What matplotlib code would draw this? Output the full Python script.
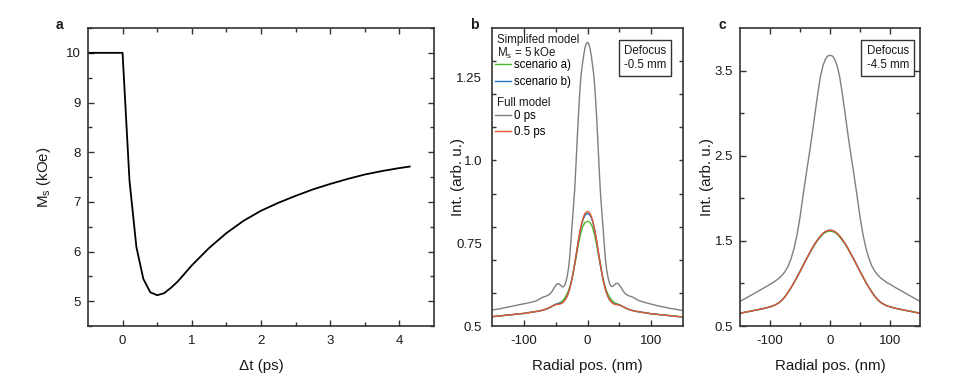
import numpy as np
import matplotlib
matplotlib.use("Agg")
import matplotlib.pyplot as plt
from matplotlib.ticker import MultipleLocator, FixedLocator

plt.rcParams['font.family'] = ['Liberation Sans', 'DejaVu Sans']
plt.rcParams['mathtext.fontset'] = 'custom'
plt.rcParams['mathtext.rm'] = 'Liberation Sans'
plt.rcParams['mathtext.it'] = 'Liberation Sans:italic'
plt.rcParams['axes.unicode_minus'] = False

# panel a: saturation magnetisation vs delay
t_ps = [-0.5, 0.0, 0.1, 0.2, 0.3, 0.4, 0.5, 0.6, 0.7, 0.8, 1.0, 1.25, 1.5, 1.75,
        2.0, 2.25, 2.5, 2.75, 3.0, 3.25, 3.5, 3.75, 4.0, 4.15]
ms_koe = [10, 10, 7.43, 6.09, 5.45, 5.18, 5.12, 5.16, 5.27, 5.40, 5.72, 6.07, 6.37, 6.62,
          6.82, 6.98, 7.12, 7.25, 7.36, 7.46, 7.55, 7.62, 7.68, 7.71]

# panel b: defocus -0.5 mm
xb = [-150, -140, -130, -120, -110, -100, -90, -80, -74, -70, -65, -60, -56, -52, -48, -45,
      -42, -40, -38, -36, -34, -32, -30, -28, -26, -24, -22, -20, -18, -16, -14, -12, -10,
      -8, -6, -4, -2, 0, 2, 4, 6, 8, 10, 12, 14, 16, 18, 20, 22, 24, 26, 28, 30, 32, 34,
      36, 38, 40, 42, 45, 48, 52, 56, 60, 65, 70, 74, 80, 90, 100, 110, 120, 130, 140, 150]
b_full_0ps = [0.548, 0.551, 0.555, 0.559, 0.563, 0.567, 0.571, 0.576, 0.583, 0.587, 0.590,
              0.595, 0.603, 0.616, 0.627, 0.628, 0.623, 0.619, 0.618, 0.622, 0.633, 0.648,
              0.672, 0.705, 0.755, 0.810, 0.860, 0.915, 0.990, 1.070, 1.145, 1.210, 1.260,
              1.290, 1.318, 1.340, 1.353, 1.357, 1.352, 1.338, 1.315, 1.286, 1.255, 1.205,
              1.140, 1.065, 0.985, 0.910, 0.855, 0.805, 0.752, 0.702, 0.670, 0.648, 0.632,
              0.622, 0.619, 0.620, 0.624, 0.629, 0.628, 0.618, 0.605, 0.596, 0.591, 0.588,
              0.584, 0.577, 0.571, 0.566, 0.561, 0.557, 0.553, 0.550, 0.546]
b_full_05ps = [0.528, 0.530, 0.532, 0.534, 0.536, 0.538, 0.541, 0.544, 0.546, 0.548, 0.551,
               0.555, 0.559, 0.563, 0.565, 0.566, 0.567, 0.569, 0.572, 0.577, 0.582, 0.590,
               0.600, 0.612, 0.627, 0.645, 0.666, 0.689, 0.712, 0.737, 0.762, 0.784, 0.804,
               0.819, 0.831, 0.840, 0.844, 0.846, 0.844, 0.840, 0.831, 0.819, 0.803, 0.783,
               0.761, 0.736, 0.711, 0.688, 0.665, 0.644, 0.626, 0.611, 0.599, 0.589, 0.581,
               0.576, 0.571, 0.568, 0.566, 0.565, 0.564, 0.562, 0.558, 0.554, 0.550, 0.547,
               0.545, 0.543, 0.540, 0.537, 0.535, 0.533, 0.531, 0.529, 0.527]
b_scen_a = [0.528, 0.530, 0.532, 0.534, 0.536, 0.538, 0.541, 0.544, 0.546, 0.548, 0.551,
            0.555, 0.559, 0.563, 0.567, 0.569, 0.572, 0.575, 0.579, 0.584, 0.590, 0.597,
            0.606, 0.617, 0.631, 0.647, 0.665, 0.685, 0.706, 0.728, 0.749, 0.768, 0.784,
            0.797, 0.806, 0.812, 0.815, 0.816, 0.815, 0.812, 0.806, 0.797, 0.783, 0.767,
            0.748, 0.727, 0.705, 0.684, 0.664, 0.646, 0.630, 0.616, 0.605, 0.596, 0.589,
            0.583, 0.578, 0.574, 0.571, 0.568, 0.566, 0.562, 0.558, 0.554, 0.550, 0.547,
            0.545, 0.543, 0.540, 0.537, 0.535, 0.533, 0.531, 0.529, 0.527]
b_scen_b = [0.528, 0.530, 0.532, 0.534, 0.536, 0.538, 0.541, 0.544, 0.546, 0.548, 0.551,
            0.555, 0.559, 0.564, 0.567, 0.568, 0.569, 0.570, 0.573, 0.577, 0.582, 0.590,
            0.600, 0.612, 0.627, 0.645, 0.666, 0.689, 0.712, 0.737, 0.761, 0.782, 0.801,
            0.815, 0.826, 0.834, 0.838, 0.840, 0.838, 0.834, 0.826, 0.815, 0.800, 0.781,
            0.760, 0.736, 0.711, 0.688, 0.665, 0.644, 0.626, 0.611, 0.599, 0.589, 0.581,
            0.576, 0.572, 0.569, 0.567, 0.566, 0.564, 0.562, 0.558, 0.554, 0.550, 0.547,
            0.545, 0.543, 0.540, 0.537, 0.535, 0.533, 0.531, 0.529, 0.527]

# panel c: defocus -4.5 mm
xc = [-150, -140, -130, -120, -110, -100, -95, -90, -85, -80, -75, -70, -65, -60, -55, -50,
      -45, -40, -35, -30, -25, -20, -16, -12, -8, -4, 0, 4, 8, 12, 16, 20, 25, 30, 35, 40,
      45, 50, 55, 60, 65, 70, 75, 80, 85, 90, 95, 100, 110, 120, 130, 140, 150]
c_full_0ps = [0.790, 0.828, 0.868, 0.908, 0.948, 0.990, 1.010, 1.035, 1.060, 1.095, 1.140,
              1.200, 1.290, 1.410, 1.570, 1.780, 2.030, 2.270, 2.500, 2.740, 3.000, 3.250,
              3.430, 3.550, 3.630, 3.670, 3.680, 3.670, 3.630, 3.550, 3.430, 3.250, 3.000,
              2.740, 2.500, 2.270, 2.030, 1.780, 1.570, 1.410, 1.290, 1.200, 1.140, 1.095,
              1.060, 1.035, 1.010, 0.990, 0.948, 0.908, 0.868, 0.828, 0.790]
c_full_05ps = [0.650, 0.664, 0.678, 0.692, 0.707, 0.725, 0.737, 0.753, 0.775, 0.805, 0.845,
               0.895, 0.950, 1.010, 1.075, 1.140, 1.210, 1.280, 1.345, 1.410, 1.470, 1.520,
               1.557, 1.587, 1.608, 1.621, 1.625, 1.621, 1.608, 1.587, 1.557, 1.520, 1.470,
               1.410, 1.345, 1.280, 1.210, 1.140, 1.075, 1.010, 0.950, 0.895, 0.845, 0.805,
               0.775, 0.753, 0.737, 0.725, 0.707, 0.692, 0.678, 0.664, 0.650]
c_scen_a = [0.650, 0.664, 0.678, 0.692, 0.707, 0.725, 0.737, 0.753, 0.775, 0.805, 0.845,
            0.895, 0.950, 1.010, 1.075, 1.140, 1.208, 1.276, 1.340, 1.403, 1.462, 1.511,
            1.547, 1.576, 1.598, 1.610, 1.614, 1.610, 1.598, 1.576, 1.547, 1.511, 1.462,
            1.403, 1.340, 1.276, 1.208, 1.140, 1.075, 1.010, 0.950, 0.895, 0.845, 0.805,
            0.775, 0.753, 0.737, 0.725, 0.707, 0.692, 0.678, 0.664, 0.650]
c_scen_b = c_full_05ps

GREEN = '#4cbb2e'
BLUE = '#1f74c4'
GRAY = '#7f7f7f'
ORANGE = '#e4572e'
TXT = '#1a1a1a'
LW = 1.0
FS_LEG = 8.3
FS_TICK = 9.5
FS_LAB = 10.9

fig = plt.figure(figsize=(9.55, 3.83), dpi=100)
ax_a = fig.add_axes([0.0921, 0.1488, 0.3623, 0.7781])
ax_b = fig.add_axes([0.5149, 0.1488, 0.2006, 0.7781])
ax_c = fig.add_axes([0.7749, 0.1488, 0.1885, 0.7781])


def style(ax):
    for s in ax.spines.values():
        s.set_linewidth(1.2)
        s.set_color('#333333')
    ax.tick_params(which='both', direction='in', top=True, right=True,
                   color='#333333', width=1.0, labelsize=FS_TICK, labelcolor=TXT)
    ax.tick_params(which='major', length=4)
    ax.tick_params(which='minor', length=3)
    ax.tick_params(axis='x', which='major', pad=6.5)
    ax.tick_params(axis='y', which='major', pad=5)


def axis_labels(ax, xl, yl, ycoord):
    ax.set_xlabel(xl, fontsize=FS_LAB, color=TXT)
    ax.set_ylabel(yl, fontsize=FS_LAB, color=TXT)
    ax.xaxis.set_label_coords(0.5, -0.110)
    ax.yaxis.set_label_coords(ycoord, 0.5)


# a
ax_a.plot(t_ps, ms_koe, color='black', lw=1.3)
ax_a.set_xlim(-0.5, 4.5)
ax_a.set_ylim(4.5, 10.5)
ax_a.xaxis.set_major_locator(FixedLocator([0, 1, 2, 3, 4]))
ax_a.xaxis.set_minor_locator(FixedLocator([0.5, 1.5, 2.5, 3.5]))
ax_a.yaxis.set_major_locator(MultipleLocator(1))
ax_a.yaxis.set_minor_locator(MultipleLocator(0.5))
style(ax_a)
axis_labels(ax_a, 'Δt (ps)', r'M$_\mathrm{s}$ (kOe)', -0.101)

# b
lg, = ax_b.plot(xb, b_full_0ps, color=GRAY, lw=LW)
la, = ax_b.plot(xb, b_scen_a, color=GREEN, lw=LW)
lb, = ax_b.plot(xb, b_scen_b, color=BLUE, lw=LW)
lo, = ax_b.plot(xb, b_full_05ps, color=ORANGE, lw=LW)
ax_b.set_xlim(-150, 150)
ax_b.set_ylim(0.5, 1.4)
ax_b.xaxis.set_major_locator(FixedLocator([-100, 0, 100]))
ax_b.xaxis.set_minor_locator(FixedLocator([-50, 50]))
ax_b.yaxis.set_major_locator(FixedLocator([0.5, 0.75, 1.0, 1.25]))
ax_b.yaxis.set_major_formatter(plt.FixedFormatter(['0.5', '0.75', '1.0', '1.25']))
ax_b.yaxis.set_minor_locator(FixedLocator([0.6, 0.7, 0.8, 0.9, 1.0, 1.1, 1.2, 1.3]))
ax_b.yaxis.remove_overlapping_locs = False
style(ax_b)
ax_b.tick_params(axis='y', which='major', length=0, pad=7)
axis_labels(ax_b, 'Radial pos. (nm)', 'Int. (arb. u.)', -0.141)

leg_kw = dict(loc='center left', frameon=False, fontsize=FS_LEG,
              handlelength=1.35, handletextpad=0.3, borderpad=0.15, borderaxespad=0)
leg1 = ax_b.legend([la, lb], ['scenario a)', 'scenario b)'], labelspacing=0.42,
                   bbox_to_anchor=(0.008, 0.847), **leg_kw)
ax_b.add_artist(leg1)
ax_b.legend([lg, lo], ['0 ps', '0.5 ps'], labelspacing=0.28,
            bbox_to_anchor=(0.008, 0.678), **leg_kw)
for txt, y in (('Simplifed model', 0.960), (r'M$_\mathrm{s}$ = 5 kOe', 0.915),
               ('Full model', 0.750)):
    ax_b.text(0.026, y, txt, transform=ax_b.transAxes, fontsize=FS_LEG,
              ha='left', va='center', color=TXT)
ax_b.text(0.80, 0.898, 'Defocus\n-0.5 mm', transform=ax_b.transAxes, fontsize=FS_LEG,
          ha='center', va='center', multialignment='left', color=TXT,
          bbox=dict(boxstyle='square,pad=0.45', fc='white', ec='#333333', lw=1.0))

# c
ax_c.plot(xc, c_full_0ps, color=GRAY, lw=LW)
ax_c.plot(xc, c_scen_a, color=GREEN, lw=LW)
ax_c.plot(xc, c_scen_b, color=BLUE, lw=LW)
ax_c.plot(xc, c_full_05ps, color=ORANGE, lw=LW)
ax_c.set_xlim(-150, 150)
ax_c.set_ylim(0.5, 4.0)
ax_c.xaxis.set_major_locator(FixedLocator([-100, 0, 100]))
ax_c.xaxis.set_minor_locator(FixedLocator([-50, 50]))
ax_c.yaxis.set_major_locator(FixedLocator([0.5, 1.5, 2.5, 3.5]))
ax_c.yaxis.set_minor_locator(FixedLocator([1.0, 2.0, 3.0]))
style(ax_c)
axis_labels(ax_c, 'Radial pos. (nm)', 'Int. (arb. u.)', -0.146)
ax_c.text(0.821, 0.898, 'Defocus\n-4.5 mm', transform=ax_c.transAxes, fontsize=FS_LEG,
          ha='center', va='center', multialignment='left', color=TXT,
          bbox=dict(boxstyle='square,pad=0.45', fc='white', ec='#333333', lw=1.0))

for lab, x in (('a', 59), ('b', 474), ('c', 722)):
    fig.text(x / 955, 1 - 25 / 383, lab, fontsize=10, fontweight='bold',
             ha='center', va='center', color=TXT)

fig.savefig('out.png', dpi=100)
